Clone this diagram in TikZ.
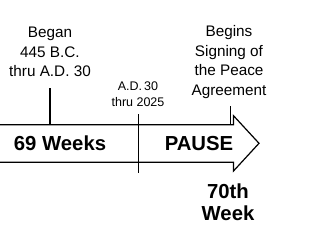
\documentclass[tikz,border=0pt]{standalone}
\usepackage{fontspec}
\setmainfont{Liberation Sans}
\begin{document}
\begin{tikzpicture}[x=1pt,y=-1pt,
  line/.style={draw=black,line width=1.2pt},
  lbl/.style={align=center,inner sep=0pt,font=\fontsize{15.3}{19.5}\selectfont},
  small/.style={align=center,inner sep=0pt,font=\fontsize{12.5}{16}\selectfont},
  big/.style={align=center,inner sep=0pt,font=\fontsize{20.3}{22}\selectfont\bfseries}]
\useasboundingbox (0,0) rectangle (335,241);
\fill[white] (0,0) rectangle (335,241);
% arrow
\coordinate (a1) at (-2,124.7);
\coordinate (a2) at (233.5,124.7);
\coordinate (a3) at (233.5,115.7);
\coordinate (tip) at (259,143.3);
\coordinate (a5) at (233.5,171);
\coordinate (a6) at (233.5,162.3);
\coordinate (a7) at (-2,162.3);
\draw[line,line join=miter] (a1) -- (a2) -- (a3) -- (tip) -- (a5) -- (a6) -- (a7);
% ticks
\coordinate (t1a) at (50,88); \coordinate (t1b) at (50,124.7);
\coordinate (t2a) at (138.3,114); \coordinate (t2b) at (138.3,173.3);
\coordinate (t3a) at (230.5,106); \coordinate (t3b) at (230.5,124.7);
\draw[line] (t1a) -- (t1b);
\draw[line] (t2a) -- (t2b);
\draw[line] (t3a) -- (t3b);
% labels
\node[lbl] (began) at (50,52) {Began\\445 B.C.\\thru A.D. 30};
\node[small] (ad) at (138,94) {A.D.\,30\\thru 2025};
\node[lbl] (begins) at (229,62) {Begins\\Signing of\\the Peace\\Agreement};
\node[big] (w69) at (60,143.5) {69 Weeks};
\node[big] (pause) at (199,143.5) {PAUSE};
\node[big] (w70) at (228,202) {70th\\Week};
\end{tikzpicture}
\end{document}
